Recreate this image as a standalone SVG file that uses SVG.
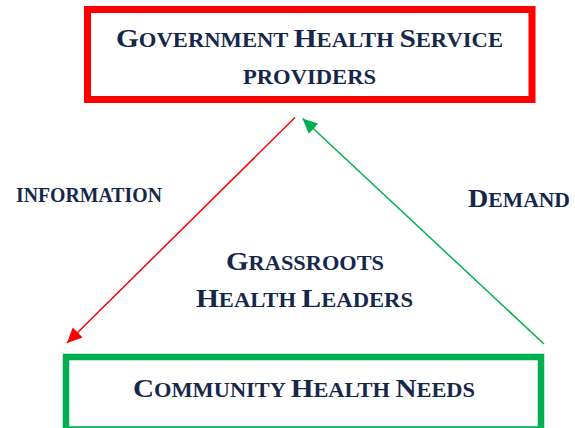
<svg xmlns="http://www.w3.org/2000/svg" width="575" height="428" viewBox="0 0 575 428">
<style>
.t{font-family:"Liberation Serif","Times New Roman",serif;font-weight:bold;fill:#16284a}
.c{font-size:26px}
.s{font-size:20px}
.box{fill:#fff}
</style>
<defs>
<marker id="ar" markerUnits="userSpaceOnUse" markerWidth="16" markerHeight="14" refX="15" refY="7" orient="auto"><path d="M0,0 L15,7 L0,14 z" fill="#FF0000"/></marker>
<marker id="ag" markerUnits="userSpaceOnUse" markerWidth="16" markerHeight="14" refX="15" refY="7" orient="auto"><path d="M0,0 L15,7 L0,14 z" fill="#00B050"/></marker>
</defs>
<rect width="575" height="428" fill="#fff"/>
<g id="gov">
<rect class="box" x="87.5" y="9.5" width="444.5" height="90" stroke="#FF0000" stroke-width="7"/>
<text class="t" x="116" y="46.5" textLength="387" lengthAdjust="spacingAndGlyphs"><tspan class="c">G</tspan><tspan class="s">OVERNMENT </tspan><tspan class="c">H</tspan><tspan class="s">EALTH </tspan><tspan class="c">S</tspan><tspan class="s">ERVICE</tspan></text>
<text class="t" x="243" y="84" textLength="133" lengthAdjust="spacingAndGlyphs"><tspan class="s">PROVIDERS</tspan></text>
</g>
<g id="community">
<rect class="box" x="66" y="357" width="475" height="72.5" stroke="#00B050" stroke-width="6.5"/>
<text class="t" x="133" y="396.7" textLength="342" lengthAdjust="spacingAndGlyphs"><tspan class="c">C</tspan><tspan class="s">OMMUNITY </tspan><tspan class="c">H</tspan><tspan class="s">EALTH </tspan><tspan class="c">N</tspan><tspan class="s">EEDS</tspan></text>
</g>
<g id="leaders">
<text class="t" x="226" y="270" textLength="158" lengthAdjust="spacingAndGlyphs"><tspan class="c">G</tspan><tspan class="s">RASSROOTS</tspan></text>
<text class="t" x="196" y="306.7" textLength="217" lengthAdjust="spacingAndGlyphs"><tspan class="c">H</tspan><tspan class="s">EALTH </tspan><tspan class="c">L</tspan><tspan class="s">EADERS</tspan></text>
</g>
<g id="connectors">
<line x1="295" y1="117.5" x2="67" y2="343" stroke="#FF0000" stroke-width="1.5" marker-end="url(#ar)"/>
<line x1="544" y1="344" x2="302.5" y2="118.5" stroke="#00B050" stroke-width="1.5" marker-end="url(#ag)"/>
<text class="t" x="16" y="202.3" textLength="146" lengthAdjust="spacingAndGlyphs"><tspan class="s">INFORMATION</tspan></text>
<text class="t" x="468" y="206.7" textLength="102" lengthAdjust="spacingAndGlyphs"><tspan class="c">D</tspan><tspan class="s">EMAND</tspan></text>
</g>
</svg>
